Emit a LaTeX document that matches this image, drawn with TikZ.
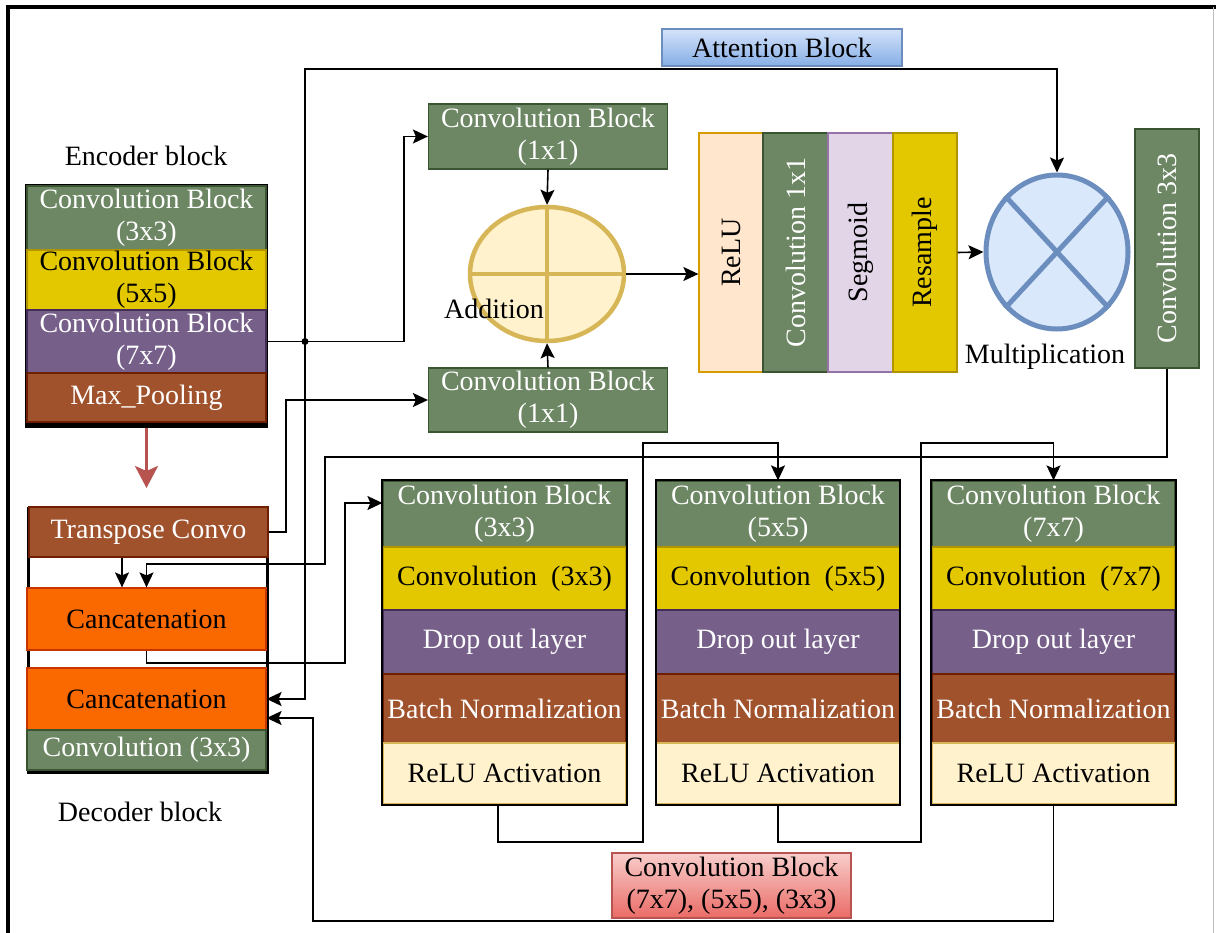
\documentclass[tikz,border=0pt]{standalone}
\usepackage{fontspec}
\setmainfont{Liberation Serif}
\usetikzlibrary{arrows.meta,shapes.geometric}
\definecolor{gfill}{HTML}{6D8764}\definecolor{gdraw}{HTML}{3A5431}
\definecolor{yfill}{HTML}{E3C800}\definecolor{ydraw}{HTML}{B09500}
\definecolor{pfill}{HTML}{76608A}\definecolor{pdraw}{HTML}{432D57}
\definecolor{bfill}{HTML}{A0522D}\definecolor{bdraw}{HTML}{6D1F00}
\definecolor{cfill}{HTML}{FFF2CC}\definecolor{cdraw}{HTML}{D6B656}
\definecolor{ofill}{HTML}{FA6800}\definecolor{odraw}{HTML}{C73500}
\definecolor{relufill}{HTML}{FFE6CC}\definecolor{reludraw}{HTML}{D79B00}
\definecolor{segfill}{HTML}{E1D5E7}\definecolor{segdraw}{HTML}{9673A6}
\definecolor{addfill}{HTML}{FFF2CC}\definecolor{adddraw}{HTML}{D6B656}
\definecolor{mulfill}{HTML}{DAE8FC}\definecolor{muldraw}{HTML}{6C8EBF}
\definecolor{attT}{HTML}{D4E3FA}\definecolor{attB}{HTML}{86AEE6}\definecolor{attD}{HTML}{6C8EBF}
\definecolor{pinkT}{HTML}{F8CECC}\definecolor{pinkB}{HTML}{EA6B66}\definecolor{pinkD}{HTML}{B85450}
\definecolor{redarr}{HTML}{B85450}
\begin{document}
\begin{tikzpicture}[x=1pt,y=-1pt,
  font=\fontsize{28}{32}\selectfont,
  base/.style={rectangle, inner sep=0pt, align=center, line width=1.2pt},
  gl/.style={base, fill=gfill, draw=gdraw, text=white},
  yl/.style={base, fill=yfill, draw=ydraw},
  pl/.style={base, fill=pfill, draw=pdraw, text=white},
  bl/.style={base, fill=bfill, draw=bdraw, text=white},
  cl/.style={base, fill=cfill, draw=cdraw},
  ol/.style={base, fill=ofill, draw=odraw},
  sz/.style 2 args={minimum width=#1pt, minimum height=#2pt},
  arr/.style={line width=1.6pt, -{Stealth[length=15pt,width=14pt,inset=3pt]}},
  ln/.style={line width=1.6pt},
]
\useasboundingbox (0,0) rectangle (1216,933);
\fill[white] (0,0) rectangle (1216,933);
% frame
\draw[line width=4pt] (8,933) -- (8,7) -- (1216,7);
\draw[line width=1pt, black!25] (1213,7) -- (1213,933);

% encoder
\node (enclab) at (146,156) {Encoder block};
\node[fill=black, sz={243}{244}, inner sep=0pt] (encbg) at (146.5,306) {};
\node[gl, sz={239}{64}] (e1) at (146.5,218) {Convolution Block\\(3x3)};
\node[yl, sz={239}{60}] (e2) at (146.5,280) {Convolution Block\\(5x5)};
\node[pl, sz={239}{63}] (e3) at (146.5,341.5) {Convolution Block\\(7x7)};
\node[bl, sz={239}{49}] (e4) at (146.5,397.5) {Max\_Pooling};
\draw[line width=3pt, draw=redarr, -{Stealth[length=22pt,width=23pt,inset=5pt]}] (encbg.south) -- (146.5,488);

% decoder
\node[draw=black, fill=white, line width=3pt, sz={239}{264}, inner sep=0pt] (decbg) at (147.5,640) {};
\node[bl, sz={239}{50}] (d1) at (148.5,532) {Transpose Convo};
\node[ol, sz={239}{62}] (d2) at (146.5,619) {Cancatenation};
\node[ol, sz={239}{62}] (d3) at (146.5,699) {Cancatenation};
\node[gl, sz={239}{40}] (d4) at (146.5,750) {Convolution (3x3)};
\node (declab) at (140,812) {Decoder block};

% attention label
\node[top color=attT, bottom color=attB, draw=attD, line width=1.2pt, sz={240}{37}, inner sep=0pt] (att) at (782,47.5) {Attention Block};

% 1x1 conv blocks
\node[gl, sz={239}{65}] (ct) at (548,136.5) {Convolution Block\\(1x1)};
\node[gl, sz={239}{64}] (cb) at (548,400) {Convolution Block\\(1x1)};

% addition
\node[ellipse, draw=adddraw, fill=addfill, line width=4.5pt, sz={154}{134}, inner sep=0pt] (add) at (547,274) {};
\draw[adddraw, line width=4.5pt] (add.north) -- (add.south) (add.west) -- (add.east);
\node (addlab) at (494,309) {Addition};

% vertical layers
\node[base, fill=relufill, draw=reludraw, sz={64}{239}] (relu) at (731,252.5) {\rotatebox{90}{ReLU}};
\node[gl, sz={65}{239}] (c11) at (795.5,252.5) {\rotatebox{90}{Convolution 1x1}};
\node[base, fill=segfill, draw=segdraw, sz={65}{239}] (seg) at (860.5,252.5) {\rotatebox{90}{Segmoid}};
\node[yl, sz={64}{239}] (res) at (925,252.5) {\rotatebox{90}{Resample}};

% multiplication
\node[ellipse, draw=muldraw, fill=mulfill, line width=5pt, sz={142}{154}, inner sep=0pt] (mult) at (1057,252) {};
\draw[muldraw, line width=5pt] (mult.north west) -- (mult.south east) (mult.north east) -- (mult.south west);
\node (multlab) at (1045,357) {Multiplication};

% conv 3x3
\node[gl, sz={64}{239}] (c33) at (1167,248.5) {\rotatebox{90}{Convolution 3x3}};

% lower blocks
\foreach \n/\x/\k in {A/504.5/3x3, B/778/5x5, C/1053.5/7x7} {
  \node[gl, sz={243}{66}] (\n1) at (\x,514) {Convolution Block\\(\k)};
  \node[yl, sz={243}{63}] (\n2) at (\x,578.5) {Convolution~ (\k)};
  \node[pl, sz={243}{64}] (\n3) at (\x,642) {Drop out layer};
  \node[bl, sz={243}{69}] (\n4) at (\x,708.5) {Batch Normalization};
  \node[cl, sz={243}{61}] (\n5) at (\x,773.5) {ReLU Activation};
  \draw[line width=2pt] (\n1.north west) rectangle (\n5.south east);
}

% pink label
\node[top color=pinkT, bottom color=pinkB, draw=pinkD, line width=1.2pt, sz={239}{65}, inner sep=0pt, align=center] (cbl) at (731.5,885.5) {Convolution Block\\(7x7), (5x5), (3x3)};

% connectors
\coordinate (jn) at (305,341.5);
\draw[arr] (e3.east) -- (404,341.5) |- (ct.west);
\fill (jn) circle (3.5pt);
\draw[arr] (jn) -- (305,69) -| (mult.north);
\draw[arr] (jn) |- (d3.east);
\draw[arr] (d1.east) -- (286,532) |- (cb.west);
\draw[arr] (ct.south) -- (add.north);
\draw[arr] (cb.north) -- (add.south);
\draw[arr] (add.east) -- (add.east -| relu.west);
\draw[arr] (res.east) -- (mult.west);
\draw[arr] (c33.south) -- (1167,457) -| (325,564) -| (d2.north);
\draw[arr] ([xshift=-26.5pt]d1.south) -- ([xshift=-24.5pt]d2.north);
\draw[arr] (d2.south) -- (146.5,663) -| (345,503) -- ([yshift=11pt]A1.west);
\draw[arr] ([xshift=-6.5pt]A5.south) -- (498,842) -| (643,443) -| (B1.north);
\draw[arr] (B5.south) -- (778,842) -| (921,443) -| (C1.north);
\draw[arr] (C5.south) -- (1053.5,921) -| (313,718) -- ([yshift=-19pt]d3.east);
\end{tikzpicture}
\end{document}
